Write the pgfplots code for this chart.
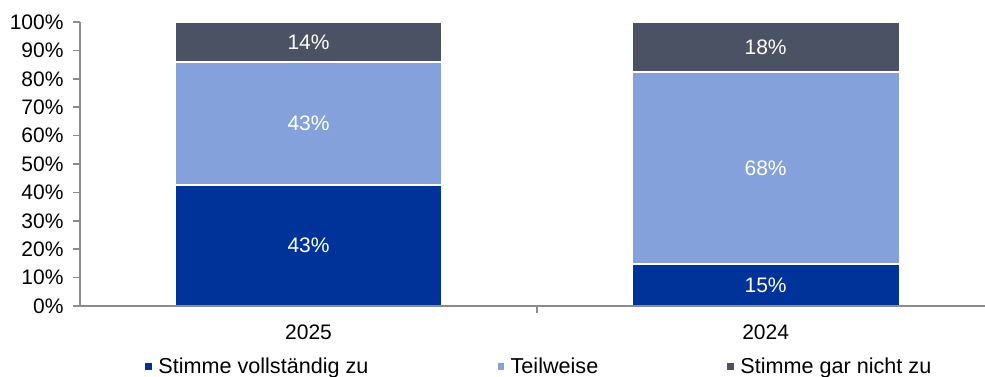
\documentclass[border=0pt]{standalone}
\usepackage{pgfplots}
\usepackage{pgfplotstable}
\pgfplotsset{compat=1.18}
\usepackage{fontspec}
\setmainfont{Liberation Sans}
\definecolor{cDark}{HTML}{003399}
\definecolor{cLight}{HTML}{85A1DB}
\definecolor{cGrey}{HTML}{4A5263}
\definecolor{axgrey}{HTML}{8C8C8C}
\newcommand{\fs}{\fontsize{21bp}{25bp}\selectfont}
\newcommand{\fl}{\fontsize{21.6bp}{25bp}\selectfont}
\pgfplotstableread{
x v
0 42.6
1 14.8
}\tblA
\pgfplotstableread{
x v
0 43.3
1 67.6
}\tblB
\pgfplotstableread{
x v
0 14.1
1 17.6
}\tblC
\begin{document}
\begin{tikzpicture}
\useasboundingbox (0,0) rectangle (985bp,377bp);
\begin{axis}[
  at={(80bp,71bp)}, anchor=south west,
  scale only axis, width=905bp, height=284bp,
  ybar stacked, bar width=267bp,
  xmin=-0.5, xmax=1.48, ymin=0, ymax=100,
  enlargelimits=false,
  axis x line=bottom, axis y line=left,
  axis line style={draw=axgrey, line width=1.5bp, -},
  axis on top=true,
  tick align=outside,
  major tick length=7bp,
  tick style={draw=axgrey, line width=1.5bp},
  ytick={0,10,...,100},
  yticklabel={\pgfmathprintnumber{\tick}\%},
  /pgf/number format/assume math mode=true,
  yticklabel style={font=\fs, text=black, xshift=-6bp},
  xtick={0.5}, xticklabels={},
  extra x ticks={0,1},
  extra x tick labels={2025,2024},
  extra x tick style={major tick length=0pt, xticklabel style={font=\fs, text=black, yshift=-15bp}},
  visualization depends on={\thisrow{v}\as\rawv},
  nodes near coords={\pgfmathprintnumber[fixed,precision=0]{\rawv}\%},
  every node near coord/.style={anchor=center, text=white, font=\fs},
  legend columns=3,
  legend style={draw=none, fill=none, font=\fl, at={(0.0707,-0.213)}, anchor=west,
    inner xsep=0pt,
    /tikz/every odd column/.append style={column sep=3bp},
    /tikz/every even column/.append style={column sep=126bp}},
  legend image code/.code={\fill[#1] (0bp,-4bp) rectangle (8bp,4bp);},
]
\addplot[fill=cDark, draw=white, line width=1.2bp] table[x=x,y=v]{\tblA};
\addlegendentry{Stimme vollständig zu}
\addplot[fill=cLight, draw=white, line width=1.2bp] table[x=x,y=v]{\tblB};
\addlegendentry{Teilweise}
\addplot[fill=cGrey, draw=white, line width=1.2bp] table[x=x,y=v]{\tblC};
\addlegendentry{Stimme gar nicht zu}
\end{axis}
\end{tikzpicture}
\end{document}
